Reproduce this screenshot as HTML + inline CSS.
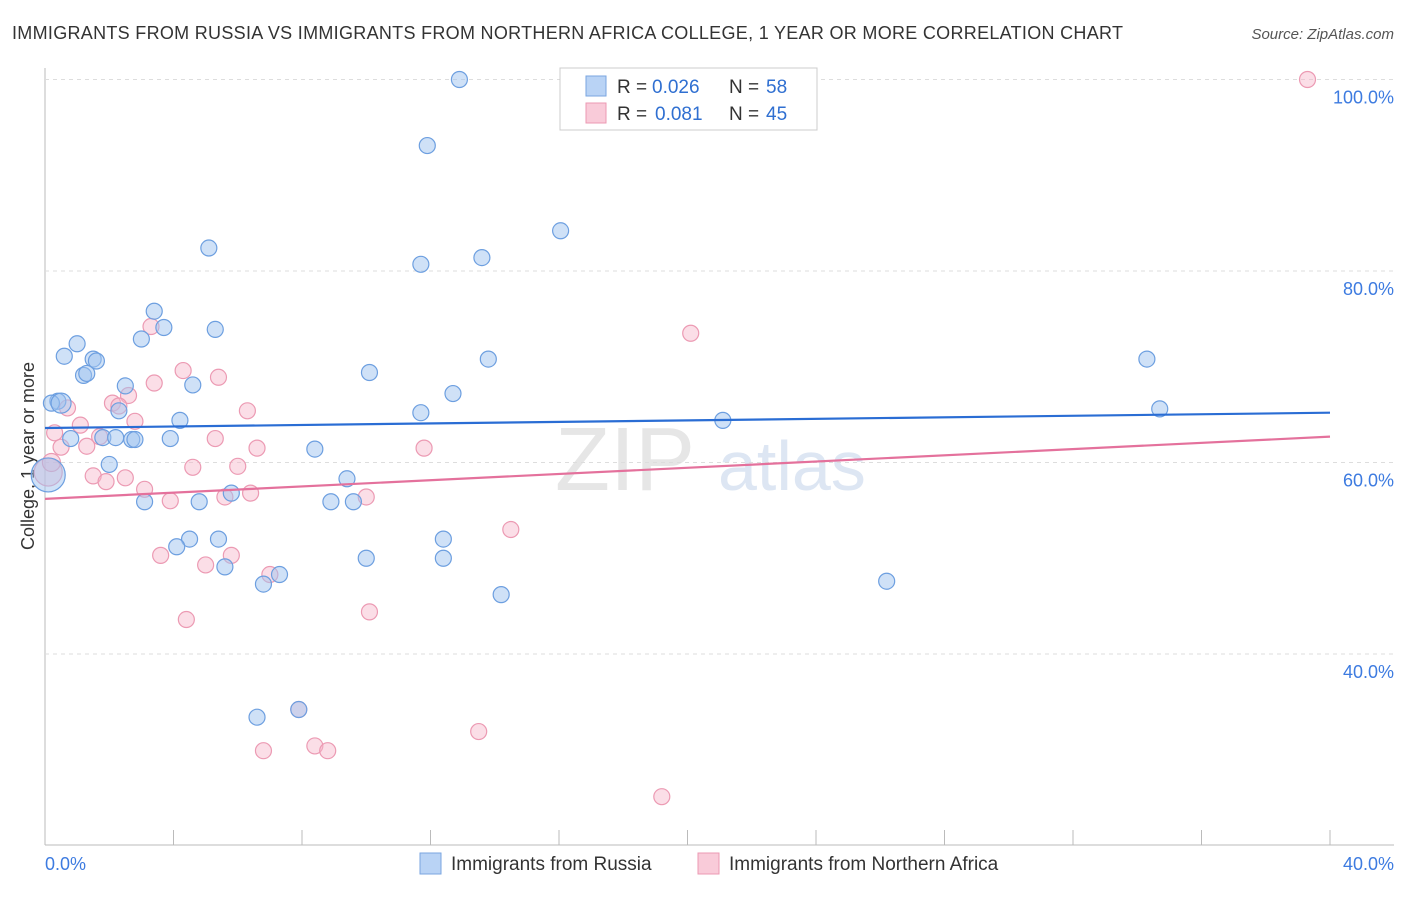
<!DOCTYPE html>
<html><head><meta charset="utf-8"><style>
body{margin:0;background:#fff;font-family:"Liberation Sans",sans-serif}
svg text{font-family:"Liberation Sans",sans-serif}
</style></head><body>
<svg id="c" width="1406" height="892">
<text x="12" y="39" font-size="18" fill="#333" textLength="1111" lengthAdjust="spacing">IMMIGRANTS FROM RUSSIA VS IMMIGRANTS FROM NORTHERN AFRICA COLLEGE, 1 YEAR OR MORE CORRELATION CHART</text>
<text x="1394" y="39" font-size="15" fill="#555" font-style="italic" text-anchor="end">Source: ZipAtlas.com</text>
<text x="555" y="490" font-size="90" fill="#e6e6e6" font-family="Liberation Serif">ZIP</text>
<text x="718" y="490" font-size="70" fill="#dde6f3">atlas</text>
<text transform="translate(34,456) rotate(-90)" font-size="18" fill="#333" text-anchor="middle">College, 1 year or more</text>
<g id="grid"></g><g id="pts"></g><g id="lines"></g>
<g>
<rect x="560" y="68" width="257" height="62" fill="#fff" stroke="#ccc"/>
<rect x="586" y="76" width="20" height="20" fill="#b9d3f5" stroke="#7aa6e0"/>
<rect x="586" y="103" width="20" height="20" fill="#f9cbd9" stroke="#ec9ab3"/>
<g font-size="19" fill="#333">
<text x="617" y="93">R =</text><text x="652" y="93" fill="#2f6fd1">0.026</text><text x="729" y="93">N =</text><text x="766" y="93" fill="#2f6fd1">58</text></g>
<g font-size="19" fill="#333">
<text x="617" y="120">R =</text><text x="655" y="120" fill="#2f6fd1">0.081</text><text x="729" y="120">N =</text><text x="766" y="120" fill="#2f6fd1">45</text></g>
</g>
<g>
<rect x="420" y="853" width="21" height="21" fill="#b9d3f5" stroke="#7aa6e0"/>
<text x="451" y="870" font-size="19" fill="#333">Immigrants from Russia</text>
<rect x="698" y="853" width="21" height="21" fill="#f9cbd9" stroke="#ec9ab3"/>
<text x="729" y="870" font-size="19" fill="#333">Immigrants from Northern Africa</text>
</g>
</svg>
<script>
const xTicks=[0,4,8,12,16,20,24,28,32,36,40];
const yTicks=[40,60,80,100];
const yTickLabels=["40.0%","60.0%","80.0%","100.0%"];
const russiaX=[12.9,11.9,16.05,5.1,11.7,13.6,3.4,3.7,5.3,3.0,1.0,0.6,1.5,1.6,13.8,34.3,10.1,1.2,1.3,2.5,4.6,12.7,0.4,0.2,2.3,11.7,34.7,4.2,21.1,0.8,1.8,2.2,2.7,2.8,3.9,8.4,2.0,9.4,5.8,3.1,4.8,8.9,9.6,5.4,4.5,4.1,12.4,10.0,12.4,5.6,7.3,6.8,26.2,14.2,6.6,7.9,0.1,0.5];
const russiaY=[100,93.1,84.2,82.4,80.7,81.4,75.8,74.1,73.9,72.9,72.4,71.1,70.8,70.6,70.8,70.8,69.4,69.1,69.3,68.0,68.1,67.2,66.4,66.2,65.4,65.2,65.6,64.4,64.4,62.5,62.6,62.6,62.4,62.4,62.5,61.4,59.8,58.3,56.8,55.9,55.9,55.9,55.9,52.0,52.0,51.2,52.0,50.0,50.0,49.1,48.3,47.3,47.6,46.2,33.4,34.2,58.7,66.2];
const africaX=[39.3,20.1,3.3,4.3,3.4,5.4,0.7,2.6,2.1,2.3,1.1,2.8,6.3,0.3,1.7,0.5,1.3,5.3,6.6,11.8,4.6,6.0,1.5,2.5,1.9,3.1,3.9,6.4,5.6,10.0,14.5,3.6,5.8,5.0,7.0,10.1,4.4,7.9,6.8,8.4,8.8,13.5,19.2,0.1,0.2];
const africaY=[100,73.5,74.2,69.6,68.3,68.9,65.7,67.0,66.2,65.9,63.9,64.3,65.4,63.1,62.7,61.6,61.7,62.5,61.5,61.5,59.5,59.6,58.6,58.4,58.0,57.2,56.0,56.8,56.4,56.4,53.0,50.3,50.3,49.3,48.3,44.4,43.6,34.2,29.9,30.4,29.9,31.9,25.1,59.0,60.0];
const russiaTrend=[63.6,65.2];
const africaTrend=[56.2,62.7];
const X=v=>45+v/40*1285, Y=v=>79.5+(100-v)*9.575;
const NS='http://www.w3.org/2000/svg';
function mk(p,t,a){const e=document.createElementNS(NS,t);for(const k in a)e.setAttribute(k,a[k]);p.appendChild(e);return e;}
const g=document.getElementById('grid');
mk(g,'line',{x1:45,y1:68,x2:45,y2:845,stroke:'#bbb'});
mk(g,'line',{x1:45,y1:845,x2:1394,y2:845,stroke:'#bbb'});
yTicks.forEach((t,i)=>{
 mk(g,'line',{x1:45,y1:Y(t),x2:1394,y2:Y(t),stroke:'#ddd','stroke-dasharray':'4,4'});
 const tx=mk(g,'text',{x:1394,y:Y(t)+24,'font-size':18,fill:'#3d7be0','text-anchor':'end'});
 tx.textContent=yTickLabels[i];
 
 
});
xTicks.forEach(t=>{const l=mk(g,'line',{x1:X(t),y1:830,x2:X(t),y2:845,stroke:'#bbb'});
 
 });
const x0=mk(g,'text',{x:45,y:870,'font-size':18,fill:'#3d7be0'});x0.textContent='0.0%';


const x1=mk(g,'text',{x:1394,y:870,'font-size':18,fill:'#3d7be0','text-anchor':'end'});x1.textContent='40.0%';


const p=document.getElementById('pts');
function dot(x,y,r,blue){const c=mk(p,'circle',{cx:X(x),cy:Y(y),r:r,fill:blue?'rgba(160,196,240,0.5)':'rgba(246,182,202,0.45)',stroke:blue?'#6d9fe0':'#ec9ab3','stroke-width':1.2});return c;}
africaX.forEach((x,i)=>{const c=dot(x,africaY[i],i>=43?(i==43?14:9):8,false);
 
 });
russiaX.forEach((x,i)=>{const c=dot(x,russiaY[i],i==56?17:(i==57?10:8),true);
 
 });
const L=document.getElementById('lines');
const bl=mk(L,'line',{x1:X(0),y1:Y(russiaTrend[0]),x2:X(40),y2:Y(russiaTrend[1]),stroke:'#2a6dd4','stroke-width':2.2});


const pl=mk(L,'line',{x1:X(0),y1:Y(africaTrend[0]),x2:X(40),y2:Y(africaTrend[1]),stroke:'#e4719c','stroke-width':2.2});


</script>
</body></html>
